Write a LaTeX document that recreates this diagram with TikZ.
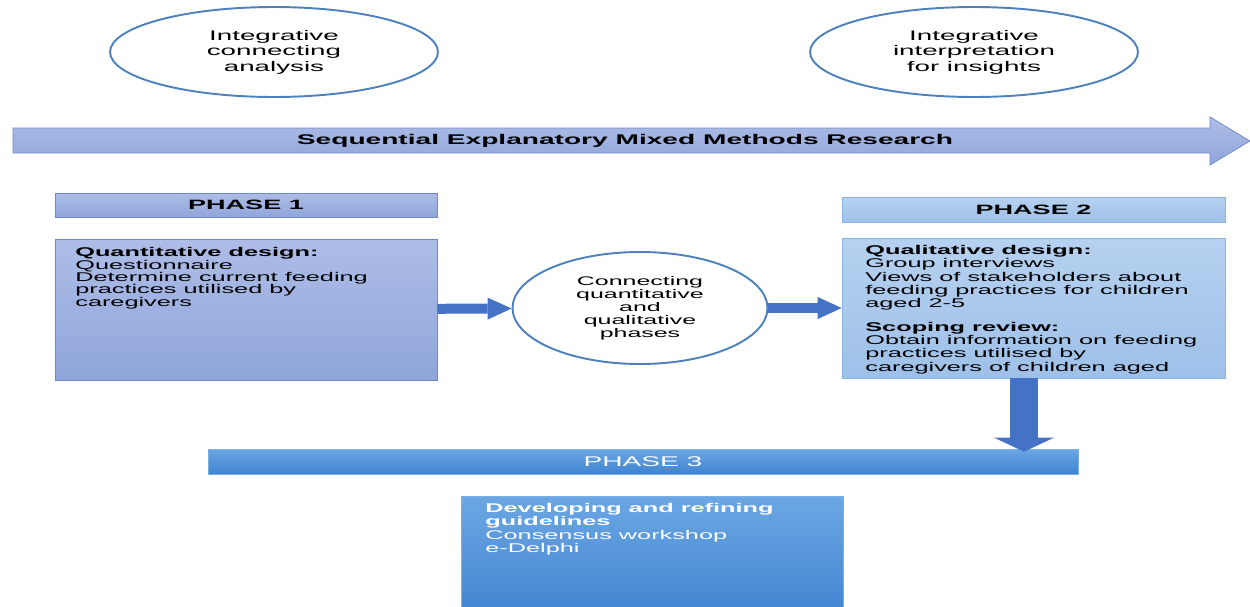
\documentclass[tikz,border=0pt]{standalone}
\usepackage{fontspec}
\setmainfont{Liberation Sans}[FakeStretch=2]
\usetikzlibrary{shapes.geometric,arrows.meta}

\definecolor{ringblue}{HTML}{4F81BD}
\definecolor{flowblue}{HTML}{4472C4}
\definecolor{lavtop}{HTML}{AEBDE7}
\definecolor{lavbot}{HTML}{8FA5DA}
\definecolor{lavline}{HTML}{7189C8}
\definecolor{skytop}{HTML}{B6D1F0}
\definecolor{skybot}{HTML}{9EC0E8}
\definecolor{skyline}{HTML}{8DB3E2}
\definecolor{deeptop}{HTML}{6CA7E3}
\definecolor{deepbot}{HTML}{3F83D0}
\definecolor{deepline}{HTML}{7AB0E4}

\tikzset{
  ring/.style={ellipse,draw=ringblue,line width=1.1pt,fill=white,inner sep=0pt,align=center},
  lavbox/.style={draw=lavline,top color=lavtop,bottom color=lavbot,inner sep=0pt},
  skybox/.style={draw=skyline,top color=skytop,bottom color=skybot,inner sep=0pt},
  deepbox/.style={draw=deepline,top color=deeptop,bottom color=deepbot,inner sep=0pt},
  bodytext/.style={anchor=north west,inner sep=0pt,align=left},
  flow/.style={color=flowblue,line width=0.2cm,-{Triangle[length=0.48cm,width=0.44cm,line width=0pt]}},
  drop/.style={color=flowblue,line width=0.56cm,-{Triangle[length=0.28cm,width=1.2cm,line width=0pt]}},
}

\begin{document}
\begin{tikzpicture}[x=0.02cm,y=-0.02cm]
\useasboundingbox (0,0) rectangle (1250,606);

\node[ring,minimum width=6.56cm,minimum height=1.8cm,font=\fontsize{7.9}{8.8}\selectfont] (ica) at (274,52) {Integrative\\connecting\\analysis};
\node[ring,minimum width=6.56cm,minimum height=1.8cm,font=\fontsize{7.9}{8.8}\selectfont] (iii) at (974,52) {Integrative\\interpretation\\for insights};

\shade[draw=lavline,top color=lavtop,bottom color=lavbot] (13,128) -- (1210,128) -- (1210,117) -- (1250,141) -- (1210,165) -- (1210,153) -- (13,153) -- cycle;
\node[font=\bfseries\fontsize{8}{9}\selectfont] (smmr) at (625,141) {Sequential Explanatory Mixed Methods Research};

\node[lavbox,minimum width=7.64cm,minimum height=0.48cm,font=\bfseries\fontsize{7.7}{8}\selectfont] (p1) at (246,205) {PHASE 1};
\node[lavbox,minimum width=7.64cm,minimum height=2.82cm] (q1) at (246,309.5) {};
\node[bodytext,font=\fontsize{7.2}{7.1}\selectfont] (q1text) at (75,247) {\textbf{Quantitative design:}\\Questionnaire\\Determine current feeding\\practices utilised by\\caregivers};

\node[ring,minimum width=5.1cm,minimum height=2.24cm,font=\fontsize{7.1}{7.4}\selectfont] (conn) at (640,308) {Connecting\\quantitative\\and\\qualitative\\phases};

\node[skybox,minimum width=7.66cm,minimum height=0.5cm,font=\bfseries\fontsize{7.7}{8}\selectfont] (p2) at (1033.5,209.5) {PHASE 2};
\node[skybox,minimum width=7.66cm,minimum height=2.8cm] (q2) at (1033.5,308) {};
\node[bodytext,font=\fontsize{7.2}{7.55}\selectfont] (q2text) at (865,245) {\textbf{Qualitative design:}\\Group interviews\\Views of stakeholders about\\feeding practices for children\\aged 2-5\\[6pt]\textbf{Scoping review:}\\Obtain information on feeding\\practices utilised by\\caregivers of children aged};

\node[deepbox,minimum width=17.4cm,minimum height=0.5cm,text=white,font=\fontsize{8}{9}\selectfont] (p3) at (643,461.5) {PHASE 3};
\node[deepbox,minimum width=7.64cm,minimum height=2.48cm] (q3) at (652,558) {};
\node[bodytext,text=white,font=\fontsize{7.2}{7.65}\selectfont] (q3text) at (485,503) {\textbf{Developing and refining}\\\textbf{guidelines}\\Consensus workshop\\e-Delphi};

\draw[flow] (q1) edge (conn) (conn) edge (q2);
\draw[drop] ([xshift=-0.19cm]q2.south) -- ([xshift=-0.19cm,yshift=-0.06cm]q2.south |- p3.north);
\end{tikzpicture}
\end{document}
